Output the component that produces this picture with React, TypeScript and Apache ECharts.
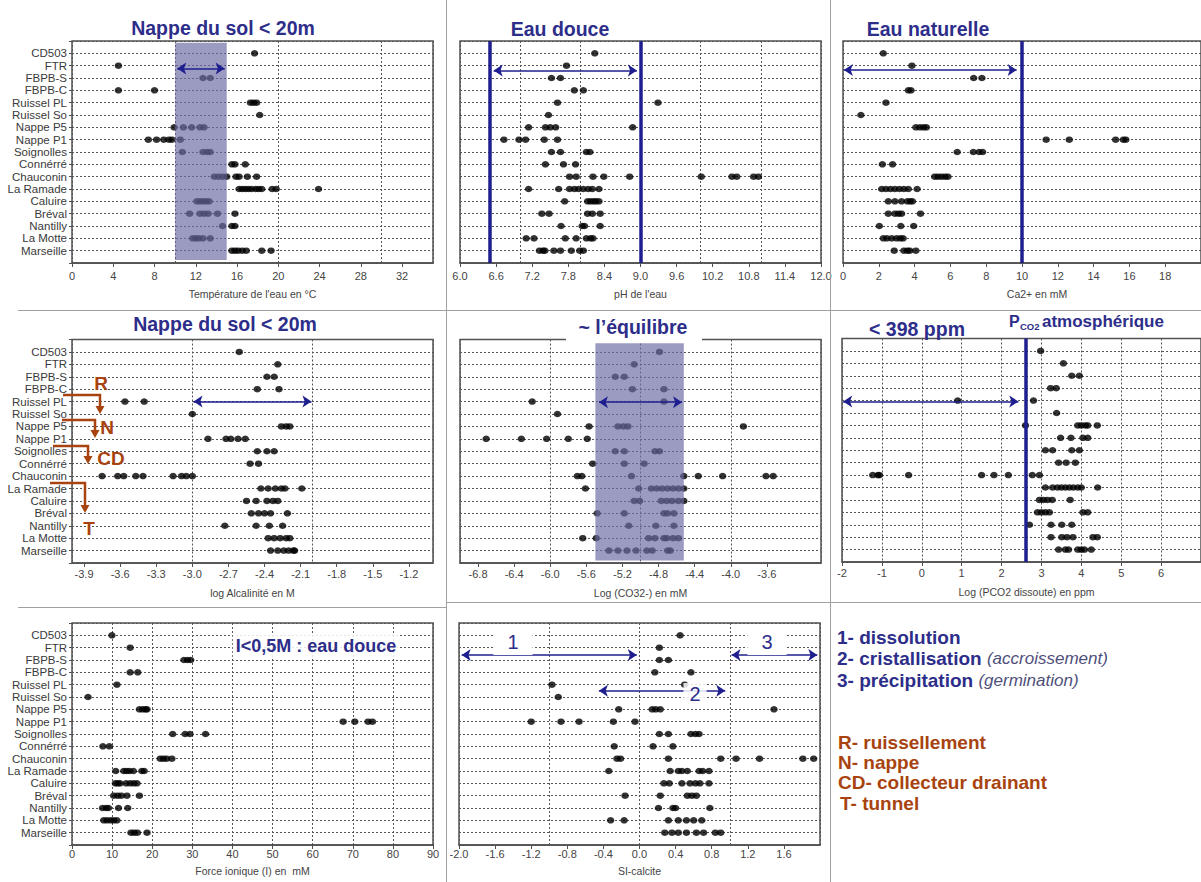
import React, { useEffect, useRef } from 'react';
import * as echarts from 'echarts';

const stations = ['CD503', 'FTR', 'FBPB-S', 'FBPB-C', 'Ruissel PL', 'Ruissel So', 'Nappe P5', 'Nappe P1', 'Soignolles', 'Connérré', 'Chauconin', 'La Ramade', 'Caluire', 'Bréval', 'Nantilly', 'La Motte', 'Marseille'];

const temperature: number[][] = [
  [17.7], [4.5], [12.7, 13.4], [4.5, 8.0], [17.3, 17.6, 17.9], [18.2],
  [9.9, 10.8, 11.6, 12.4, 12.8],
  [7.4, 8.2, 8.9, 9.4, 9.7, 10.5],
  [10.7, 12.7, 13.1, 13.4],
  [15.5, 15.8, 16.8],
  [13.8, 14.2, 14.6, 15.0, 15.9, 16.2, 17.0, 17.9],
  [16.2, 16.5, 16.8, 17.1, 17.4, 17.8, 18.1, 18.4, 19.4, 19.8, 23.9],
  [12.1, 12.4, 12.7, 13.0, 13.3],
  [11.4, 12.4, 12.8, 13.2, 14.1, 15.8],
  [14.6, 15.5, 15.8],
  [11.7, 12.0, 12.3, 12.7, 13.4],
  [15.5, 15.8, 16.1, 16.5, 16.9, 18.4, 19.3],
];

const ph: number[][] = [
  [8.24], [7.77], [7.52, 7.67], [7.9, 8.05], [7.62, 9.29], [7.47],
  [7.14, 7.42, 7.5, 7.59, 8.87],
  [6.73, 6.98, 7.09, 7.4, 7.62],
  [7.52, 7.67, 8.1, 8.16],
  [7.42, 7.72, 7.92],
  [7.82, 7.93, 8.21, 8.39, 8.82, 10.01, 10.52, 10.6, 10.88, 10.96],
  [7.14, 7.64, 7.82, 7.9, 7.97, 8.05, 8.13, 8.2, 8.31],
  [7.74, 8.12, 8.17, 8.22, 8.26, 8.31],
  [7.36, 7.48, 8.12, 8.2, 8.33],
  [7.68, 8.03, 8.07, 8.33],
  [7.1, 7.23, 7.75, 7.93, 8.1, 8.17, 8.21],
  [7.32, 7.38, 7.41, 7.56, 7.67, 7.85, 7.99, 8.05],
];

const calcium: number[][] = [
  [2.25], [3.85], [7.3, 7.76], [3.65, 3.8], [2.4], [1.0],
  [4.07, 4.3, 4.5, 4.66],
  [11.35, 12.64, 15.23, 15.66, 15.8],
  [6.38, 7.28, 7.6, 7.8],
  [2.2, 2.77],
  [5.12, 5.3, 5.5, 5.7, 5.86],
  [2.16, 2.4, 2.65, 2.9, 3.15, 3.4, 3.65, 4.14],
  [2.53, 2.9, 3.27, 3.59, 3.75, 3.88],
  [2.53, 2.9, 3.1, 3.27, 4.33],
  [2.03, 3.23, 3.95],
  [2.25, 2.45, 2.72, 2.99, 3.2, 3.36],
  [2.86, 3.4, 3.6, 3.73, 4.07],
];

const alkalinity: number[][] = [
  [-2.61], [-2.29], [-2.38, -2.32], [-2.46, -2.28], [-3.56, -3.4], [-3.0],
  [-2.26, -2.22, -2.19],
  [-2.87, -2.72, -2.68, -2.62, -2.56],
  [-2.46, -2.38, -2.32],
  [-2.52, -2.45],
  [-3.75, -3.62, -3.57, -3.47, -3.41, -3.16, -3.09, -3.05, -3.0],
  [-2.43, -2.37, -2.31, -2.26, -2.23, -2.09],
  [-2.55, -2.47, -2.38, -2.33, -2.29],
  [-2.51, -2.45, -2.4, -2.35, -2.21],
  [-2.73, -2.47, -2.36, -2.25],
  [-2.37, -2.32, -2.27, -2.22, -2.19],
  [-2.35, -2.29, -2.24, -2.2, -2.16, -2.15],
];

const carbonate: number[][] = [
  [-4.79], [-5.07], [-5.28, -5.18], [-5.09, -4.74], [-6.2, -4.74], [-5.92],
  [-5.57, -5.25, -5.19, -5.14, -3.86],
  [-6.71, -6.32, -6.04, -5.8, -5.59],
  [-5.28, -5.18, -4.84, -4.79],
  [-5.53, -5.18, -4.96],
  [-5.7, -5.65, -5.1, -4.52, -4.36, -4.09, -3.61, -3.53],
  [-5.61, -5.02, -4.88, -4.82, -4.76, -4.7, -4.64, -4.58, -4.52],
  [-5.07, -5.01, -4.77, -4.71, -4.65, -4.58, -4.52],
  [-5.48, -5.18, -4.74, -4.7, -4.63],
  [-5.13, -4.83, -4.63],
  [-5.64, -5.49, -4.91, -4.84, -4.74, -4.71, -4.64, -4.58],
  [-5.35, -5.25, -5.15, -5.05, -4.93, -4.87, -4.7, -4.67],
];

const pco2: number[][] = [
  [2.98], [3.55], [3.76, 3.95], [3.23, 3.37], [0.9, 2.8], [3.38],
  [2.6, 3.91, 4.0, 4.1, 4.16, 4.4],
  [3.48, 3.74, 4.04, 4.16],
  [3.1, 3.28, 3.76, 3.95],
  [3.43, 3.62, 3.85],
  [-1.23, -1.1, -1.06, -0.33, 1.5, 1.81, 2.17, 2.77, 2.95],
  [3.1, 3.28, 3.4, 3.5, 3.6, 3.7, 3.8, 3.91, 4.0, 4.41],
  [2.95, 3.05, 3.15, 3.27, 3.72],
  [2.9, 3.0, 3.1, 3.2, 4.04, 4.16],
  [2.7, 3.24, 3.51, 3.76],
  [3.24, 3.51, 3.64, 3.79, 4.29, 4.4],
  [3.43, 3.6, 3.68, 3.91, 4.0, 4.08, 4.25],
];

const ionic: number[][] = [
  [9.95], [14.5], [27.9, 28.8, 29.6], [14.5, 16.4], [11.2], [4.0],
  [16.8, 17.6, 18.3, 18.7],
  [67.6, 70.5, 73.8, 74.9],
  [25.1, 28.2, 29.4, 33.3],
  [7.7, 9.3],
  [22.0, 22.8, 23.6, 24.9],
  [10.9, 12.9, 13.6, 14.3, 15.3, 17.4, 18.0],
  [10.8, 11.4, 12.0, 13.5, 14.5, 15.4, 16.2],
  [10.4, 11.4, 12.3, 13.7, 16.8],
  [7.6, 8.5, 9.1, 11.6, 13.9],
  [7.9, 8.7, 9.6, 10.4, 11.2],
  [14.7, 15.5, 16.3, 18.7],
];

const saturation: number[][] = [
  [0.45], [0.22], [0.22, 0.32], [0.17, 0.57], [-0.97, 0.5], [-0.9],
  [-0.23, 0.14, 0.18, 0.23, 1.49],
  [-1.2, -0.87, -0.67, -0.29, -0.05],
  [0.22, 0.32, 0.57, 0.62, 0.66],
  [-0.28, 0.15, 0.37],
  [-0.25, -0.21, 0.32, 0.9, 1.07, 1.33, 1.81, 1.93],
  [-0.34, 0.34, 0.43, 0.47, 0.53, 0.66, 0.7, 0.77],
  [0.27, 0.33, 0.47, 0.56, 0.62, 0.67, 0.77],
  [-0.16, 0.23, 0.53, 0.58, 0.63],
  [0.21, 0.37, 0.4, 0.78],
  [-0.32, -0.17, 0.32, 0.43, 0.52, 0.6, 0.69],
  [0.28, 0.36, 0.43, 0.52, 0.63, 0.71, 0.84, 0.9],
];

const tempTicks = [0, 4, 8, 12, 16, 20, 24, 28, 32];
const phTicks = [6.0, 6.6, 7.2, 7.8, 8.4, 9.0, 9.6, 10.2, 10.8, 11.4, 12.0];
const caTicks = [0, 2, 4, 6, 8, 10, 12, 14, 16, 18];
const alkTicks = [-3.9, -3.6, -3.3, -3.0, -2.7, -2.4, -2.1, -1.8, -1.5, -1.2];
const co3Ticks = [-6.8, -6.4, -6.0, -5.6, -5.2, -4.8, -4.4, -4.0, -3.6];
const pco2Ticks = [-2, -1, 0, 1, 2, 3, 4, 5, 6];
const ionicTicks = [0, 10, 20, 30, 40, 50, 60, 70, 80, 90];
const siTicks = [-2.0, -1.6, -1.2, -0.8, -0.4, 0.0, 0.4, 0.8, 1.2, 1.6];

const NAVY = '#2d2d8a';
const LINE_NAVY = '#1e1e8e';
const BROWN = '#a8430f';
const BAND = 'rgba(108,108,165,0.68)';
const FONT = 'Liberation Sans, Arial, sans-serif';

type Panel = {
  data: number[][]; ticks: number[]; dec: number; min: number; max: number; step: number;
  name: string; box: number[]; labels: boolean; labelMargin: number; nameGap: number; namePad?: number;
  bands: number[][]; vlines: number[]; arrows: number[][];
};

const panels: Panel[] = [
  { data: temperature, ticks: tempTicks, dec: 0, min: 0, max: 35, step: 10, name: "Température de l'eau en °C", box: [72, 41, 361, 222], labels: true, labelMargin: 7, nameGap: 25, bands: [[10, 0.15, 15, 17.75]], vlines: [], arrows: [[10.2, 14.8, 2.22]] },
  { data: ph, ticks: phTicks, dec: 1, min: 6, max: 12, step: 1, name: "pH de l'eau", box: [460, 41, 361, 222], labels: false, labelMargin: 7, nameGap: 25, bands: [], vlines: [6.5, 9.0], arrows: [[6.56, 8.94, 2.4]] },
  { data: calcium, ticks: caTicks, dec: 0, min: 0, max: 20, step: 10, name: 'Ca2+ en mM', box: [843, 41, 360, 222], labels: false, labelMargin: 7, nameGap: 25, namePad: 30, bands: [], vlines: [10], arrows: [[0.05, 9.7, 2.35]] },
  { data: alkalinity, ticks: alkTicks, dec: 1, min: -4, max: -1, step: 1, name: 'log Alcalinité en M', box: [72, 339.5, 361, 223.5], labels: true, labelMargin: 5, nameGap: 24, bands: [], vlines: [], arrows: [[-2.99, -2.01, 5]] },
  { data: carbonate, ticks: co3Ticks, dec: 1, min: -7, max: -3, step: 1, name: 'Log (CO32-) en mM', box: [460, 339.5, 361, 223.5], labels: false, labelMargin: 5, nameGap: 24, bands: [[-5.5, 0.3, -4.52, 17.8]], vlines: [], arrows: [[-5.46, -4.54, 5.05]] },
  { data: pco2, ticks: pco2Ticks, dec: 0, min: -2, max: 7, step: 1, name: 'Log (PCO2 dissoute) en ppm', box: [842, 338.5, 360, 223.5], labels: false, labelMargin: 5, nameGap: 24, namePad: 10, bands: [], vlines: [2.6], arrows: [[-1.97, 2.42, 5.08]] },
  { data: ionic, ticks: ionicTicks, dec: 0, min: 0, max: 90, step: 10, name: 'Force ionique (I) en  mM', box: [72, 623, 361, 222], labels: true, labelMargin: 3, nameGap: 20, bands: [], vlines: [], arrows: [] },
  { data: saturation, ticks: siTicks, dec: 1, min: -2, max: 2, step: 1, name: 'SI-calcite', box: [459, 623, 361, 222], labels: false, labelMargin: 3, nameGap: 20, bands: [], vlines: [], arrows: [[-1.97, -0.03, 2.6], [1.02, 1.97, 2.6], [-0.45, 0.95, 5.5]] },
];

const txt = (x: number, y: number, text: string, size: number, color: string, weight: string = 'bold', align: string = 'center', extra: any = {}) => ({
  type: 'text', x, y, z: 100,
  style: { text, fontSize: size, fontWeight: weight, fill: color, fontFamily: FONT, textAlign: align, textVerticalAlign: 'middle', ...extra },
});

const line = (x1: number, y1: number, x2: number, y2: number, stroke = '#a0a0a0', lineWidth = 1) => ({
  type: 'line', z: 90, shape: { x1, y1, x2, y2 }, style: { stroke, lineWidth },
});

const bentArrow = (x1: number, y: number, x2: number, tip: number) => [
  { type: 'polyline', z: 100, shape: { points: [[x1, y], [x2, y], [x2, tip - 6]] }, style: { stroke: BROWN, lineWidth: 2.5, fill: null } },
  { type: 'polygon', z: 100, shape: { points: [[x2 - 4.5, tip - 8], [x2 + 4.5, tip - 8], [x2, tip]] }, style: { fill: BROWN } },
];

export default function App() {
  const ref = useRef<HTMLDivElement>(null);
  useEffect(() => {
    if (!ref.current) return;
    const chart = echarts.init(ref.current, null, { renderer: 'svg' });
    const grid: any[] = [];
    const xAxis: any[] = [];
    const gridAxes: any[] = [];
    const yAxis: any[] = [];
    const series: any[] = [];
    panels.forEach((p, i) => {
      grid.push({ left: p.box[0], top: p.box[1], width: p.box[2], height: p.box[3], show: true, borderColor: '#505050', borderWidth: 1.5, containLabel: false });
      xAxis.push({
        gridIndex: i, type: 'value', min: p.min, max: p.max, position: 'bottom',
        splitLine: { show: false },
        axisLine: { show: true, onZero: false, lineStyle: { color: '#505050', width: 1.5 } },
        axisTick: { show: true, customValues: p.ticks, length: 4, lineStyle: { color: '#505050' } },
        axisLabel: { customValues: p.ticks, formatter: (v: number) => v.toFixed(p.dec), fontSize: 11, color: '#444', margin: p.labelMargin, fontFamily: FONT },
        name: p.name, nameLocation: 'middle', nameGap: p.nameGap,
        nameTextStyle: { fontSize: 10.5, color: '#444', fontFamily: FONT, padding: [0, 0, 0, p.namePad || 0] },
      });
      // second x axis of the same grid: only its dotted grid lines are drawn
      gridAxes.push({
        gridIndex: i, type: 'value', min: p.min, max: p.max, interval: p.step, position: 'top',
        axisLine: { show: false }, axisTick: { show: false }, axisLabel: { show: false },
        splitLine: { show: true, lineStyle: { color: '#555', type: [2, 2], width: 1 } },
      });
      yAxis.push({
        gridIndex: i, type: 'value', inverse: true, min: 0, max: 18, interval: 1,
        splitLine: { show: true, lineStyle: { color: '#555', type: [2, 2], width: 1 } },
        axisLine: { show: false },
        axisTick: { show: p.labels, length: 3, lineStyle: { color: '#505050' } },
        axisLabel: { show: p.labels, formatter: (v: number) => stations[Math.round(v) - 1] || '', fontSize: 11.5, color: '#3a3a3a', margin: 5, fontFamily: FONT },
      });
      const pts: number[][] = [];
      p.data.forEach((vals, r) => vals.forEach((v) => pts.push([v, r + 1])));
      const s: any = {
        type: 'scatter', xAxisIndex: i, yAxisIndex: i, data: pts, symbol: 'circle', symbolSize: [7.5, 6.5],
        itemStyle: { color: '#000' }, silent: true, z: 3,
      };
      if (p.bands.length) {
        s.markArea = {
          silent: true, z: 10, itemStyle: { color: BAND },
          data: p.bands.map((b) => [{ coord: [b[0], b[1]] }, { coord: [b[2], b[3]] }]),
        };
      }
      series.push(s);
      if (p.vlines.length) {
        series.push({
          type: 'scatter', xAxisIndex: i, yAxisIndex: i, data: [], silent: true,
          markLine: { silent: true, z: 12, symbol: 'none', label: { show: false }, lineStyle: { color: LINE_NAVY, width: 3.5, type: 'solid' }, data: p.vlines.map((x) => ({ xAxis: x })) },
        });
      }
      if (p.arrows.length) {
        series.push({
          type: 'scatter', xAxisIndex: i, yAxisIndex: i, data: [], silent: true,
          markLine: {
            silent: true, z: 13, symbol: ['arrow', 'arrow'], symbolSize: 9, label: { show: false },
            lineStyle: { color: LINE_NAVY, width: 1.6, type: 'solid' },
            data: p.arrows.map((a) => [{ coord: [a[0], a[2]] }, { coord: [a[1], a[2]] }]),
          },
        });
      }
    });

    const graphic: any[] = [
      line(446.5, 0, 446.5, 882), line(830.5, 0, 830.5, 882),
      line(18, 310.5, 1201, 310.5), line(18, 607.5, 446.5, 607.5), line(446.5, 602.5, 1201, 602.5),
      txt(223, 28, 'Nappe du sol < 20m', 19.5, NAVY),
      txt(560, 28.5, 'Eau douce', 19.5, NAVY),
      txt(928, 29, 'Eau naturelle', 19.5, NAVY),
      txt(225, 324, 'Nappe du sol < 20m', 19.5, NAVY),
      { type: 'rect', z: 95, shape: { x: 566, y: 333, width: 136, height: 9 }, style: { fill: '#fff' } },
      txt(633, 326.5, '~ l\u2019équilibre', 19.5, NAVY),
      txt(917, 329, '< 398 ppm', 19.5, NAVY),
      txt(1009, 321, 'P', 16, NAVY, 'bold', 'left'),
      txt(1020, 326, 'CO2', 9.5, NAVY, 'bold', 'left'),
      txt(1042, 321, 'atmosphérique', 17, NAVY, 'bold', 'left'),
      txt(316, 646, 'I<0,5M : eau douce', 18, NAVY, 'bold', 'center', { backgroundColor: 'rgba(255,255,255,0.85)', padding: [2, 3] }),
      txt(513, 642, '1', 20, NAVY, 'normal', 'center', { backgroundColor: '#fff', padding: [2, 14, 4, 14] }),
      txt(767, 642, '3', 20, NAVY, 'normal', 'center', { backgroundColor: '#fff', padding: [2, 14, 4, 14] }),
      txt(695, 694, '2', 20, NAVY, 'normal', 'center', { backgroundColor: 'rgba(255,255,255,0.85)', padding: [1, 6] }),
      txt(101, 383, 'R', 19, BROWN), txt(107, 427, 'N', 19, BROWN), txt(111, 458, 'CD', 19, BROWN), txt(89, 528, 'T', 19, BROWN),
      ...bentArrow(63, 395, 100, 414),
      ...bentArrow(62, 420, 95, 438),
      ...bentArrow(53, 446, 88, 464),
      ...bentArrow(50, 483, 85, 513),
      txt(837, 637.5, '1- dissolution', 19, NAVY, 'bold', 'left'),
      txt(837, 658.5, '{b|2- cristallisation} {i|(accroissement)}', 19, NAVY, 'bold', 'left', { rich: { b: { fontSize: 19, fontWeight: 'bold', fill: NAVY, fontFamily: FONT }, i: { fontSize: 17, fontStyle: 'italic', fontWeight: 'normal', fill: '#4f4f7a', fontFamily: FONT } } }),
      txt(837, 680.5, '{b|3- précipitation} {i|(germination)}', 19, NAVY, 'bold', 'left', { rich: { b: { fontSize: 19, fontWeight: 'bold', fill: NAVY, fontFamily: FONT }, i: { fontSize: 17, fontStyle: 'italic', fontWeight: 'normal', fill: '#4f4f7a', fontFamily: FONT } } }),
      txt(838, 742, 'R- ruissellement', 19, BROWN, 'bold', 'left'),
      txt(838, 762, 'N- nappe', 19, BROWN, 'bold', 'left'),
      txt(838, 782.5, 'CD- collecteur drainant', 19, BROWN, 'bold', 'left'),
      txt(840, 803.5, 'T- tunnel', 19, BROWN, 'bold', 'left'),
    ];

    chart.setOption({
      animation: false,
      backgroundColor: '#fff',
      textStyle: { fontFamily: FONT },
      grid, xAxis: [...xAxis, ...gridAxes], yAxis, series, graphic,
    });
    return () => chart.dispose();
  }, []);
  return <div ref={ref} style={{ position: 'absolute', left: 0, top: 0, width: 1201, height: 882 }} />;
}
